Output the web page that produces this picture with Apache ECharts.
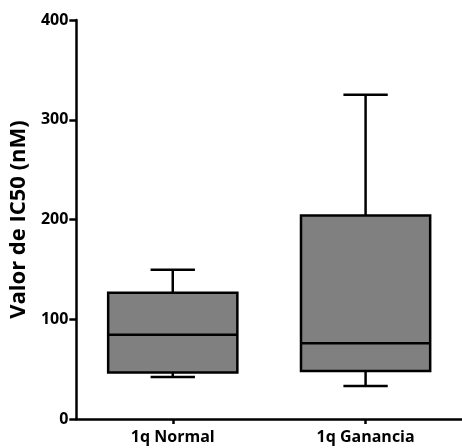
<!DOCTYPE html>
<html><head><meta charset="utf-8">
<script src="https://cdn.jsdelivr.net/npm/echarts@6/dist/echarts.min.js"></script>
<style>html,body{margin:0;padding:0;background:#fff}#c{width:462px;height:448px}</style>
</head><body><div id="c"></div>
<script>
const categories = ['1q Normal', '1q Ganancia'];
const whiskerLow = [42, 33];
const q1 = [46.5, 48];
const median = [84.5, 76];
const q3 = [126.5, 204];
const whiskerHigh = [149.5, 325];
const yTicks = [0, 100, 200, 300, 400];

const data = categories.map((c, i) => [i, whiskerLow[i], q1[i], median[i], q3[i], whiskerHigh[i]]);
const FONT = '"Open Sans"';
const chart = echarts.init(document.getElementById('c'));
chart.setOption({
  animation: false,
  grid: { left: 76, top: 20, bottom: 29, width: 390 },
  xAxis: {
    type: 'category', data: categories, boundaryGap: true,
    axisLine: { lineStyle: { color: '#000', width: 2.5 } },
    axisTick: { show: true, alignWithLabel: true, length: 5, lineStyle: { color: '#000', width: 2.5 } },
    axisLabel: { color: '#000', fontFamily: FONT, fontWeight: 'bold', fontSize: 16, margin: 10 }
  },
  yAxis: {
    type: 'value', min: yTicks[0], max: yTicks[yTicks.length - 1], interval: 100,
    name: 'Valor de IC50 (nM)', nameLocation: 'middle', nameGap: 43,
    nameTextStyle: { color: '#000', fontFamily: FONT, fontWeight: 'bold', fontSize: 22 },
    splitLine: { show: false },
    axisLine: { show: true, lineStyle: { color: '#000', width: 2.5 } },
    axisTick: { show: true, length: 7, lineStyle: { color: '#000', width: 2.5 } },
    axisLabel: { color: '#000', fontFamily: FONT, fontWeight: 'bold', fontSize: 16, margin: 8, padding: [4, 0, 0, 0] }
  },
  series: [{
    type: 'custom',
    data: data,
    encode: { x: 0, y: [1, 2, 3, 4, 5] },
    renderItem: function (params, api) {
      const x = api.value(0);
      const band = api.size([1, 0])[0];
      const bw = band * 0.67, cw = band * 0.23;
      const p = [1, 2, 3, 4, 5].map(k => api.coord([x, api.value(k)]));
      const cx = p[0][0];
      const st = { stroke: '#000', lineWidth: 2.5, fill: null };
      return {
        type: 'group',
        children: [
          { type: 'line', shape: { x1: cx, y1: p[0][1], x2: cx, y2: p[1][1] }, style: st },
          { type: 'line', shape: { x1: cx, y1: p[3][1], x2: cx, y2: p[4][1] }, style: st },
          { type: 'line', shape: { x1: cx - cw / 2, y1: p[0][1], x2: cx + cw / 2, y2: p[0][1] }, style: st },
          { type: 'line', shape: { x1: cx - cw / 2, y1: p[4][1], x2: cx + cw / 2, y2: p[4][1] }, style: st },
          { type: 'rect', shape: { x: cx - bw / 2, y: p[3][1], width: bw, height: p[1][1] - p[3][1] },
            style: { fill: '#808080', stroke: '#000', lineWidth: 2.5 } },
          { type: 'line', shape: { x1: cx - bw / 2, y1: p[2][1], x2: cx + bw / 2, y2: p[2][1] }, style: st }
        ]
      };
    }
  }]
});
</script></body></html>
